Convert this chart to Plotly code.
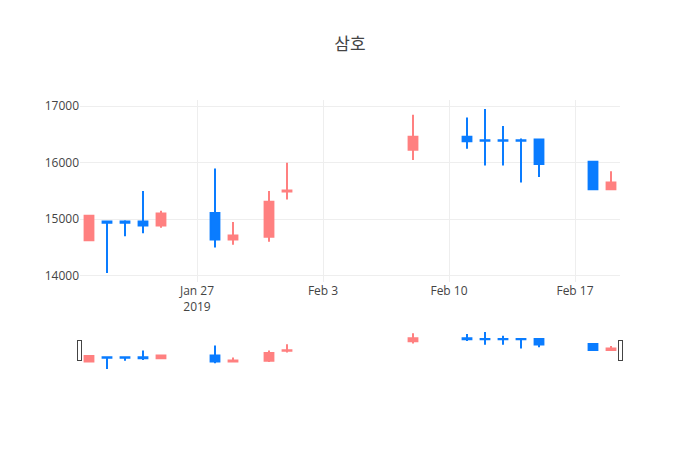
import plotly.graph_objects as go

dates = ["2019-01-21", "2019-01-22", "2019-01-23", "2019-01-24", "2019-01-25",
         "2019-01-28", "2019-01-29", "2019-01-31", "2019-02-01", "2019-02-08",
         "2019-02-11", "2019-02-12", "2019-02-13", "2019-02-14", "2019-02-15",
         "2019-02-18", "2019-02-19"]
open_ = [14630, 14960, 14960, 14960, 14890, 15110, 14640, 14690, 15490, 16230,
         16460, 16400, 16400, 16400, 16410, 16020, 15530]
high = [15060, 14970, 14980, 15500, 15150, 15900, 14950, 15500, 16000, 16850,
        16800, 16950, 16650, 16430, 16410, 16020, 15850]
low = [14630, 14050, 14700, 14750, 14850, 14500, 14550, 14600, 15350, 16050,
       16250, 15950, 15950, 15650, 15750, 15530, 15530]
close = [15060, 14940, 14940, 14890, 15100, 14640, 14710, 15310, 15510, 16460,
         16380, 16390, 16390, 16390, 15980, 15530, 15650]

RED = "#ff8080"
BLUE = "#0a7cff"

fig = go.Figure(go.Candlestick(
    x=dates, open=open_, high=high, low=low, close=close,
    increasing=dict(line=dict(color=RED), fillcolor=RED),
    decreasing=dict(line=dict(color=BLUE), fillcolor=BLUE),
))
fig.update_layout(
    template="none",
    width=700, height=450,
    title=dict(text="삼호", x=0.5),
    font=dict(family="Open Sans, Noto Sans CJK KR"),
    yaxis=dict(tickformat="d"),
)
fig.write_html("out.html")
